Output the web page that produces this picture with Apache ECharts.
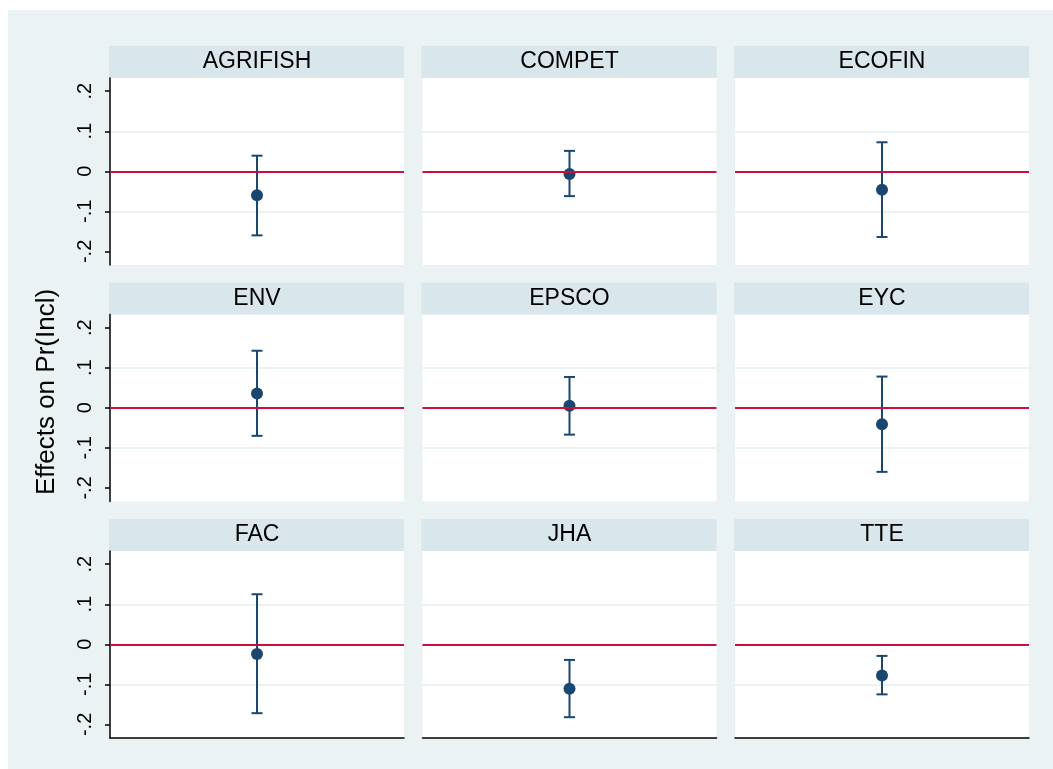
<!DOCTYPE html>
<html>
<head>
<meta charset="utf-8">
<script src="https://cdn.jsdelivr.net/npm/echarts@6/dist/echarts.min.js"></script>
<style>
  html, body { margin: 0; padding: 0; background: #fff; }
  #main { width: 1053px; height: 769px; }
</style>
</head>
<body>
<div id="main"></div>
<script>
// values
let panels = ["AGRIFISH", "COMPET", "ECOFIN", "ENV", "EPSCO", "EYC", "FAC", "JHA", "TTE"];
let estimates = [-0.06, -0.007, -0.046, 0.036, 0.005, -0.041, -0.024, -0.111, -0.078];
let lowerCI = [-0.16, -0.062, -0.164, -0.07, -0.067, -0.16, -0.172, -0.182, -0.125];
let upperCI = [0.039, 0.051, 0.0725, 0.1425, 0.077, 0.078, 0.125, -0.039, -0.029];
let yTicks = [-0.2, -0.1, 0, 0.1, 0.2];
let yMin = -0.234;
let yMax = 0.233;

let navy = "#1a476f";
let red = "#c8103c";
let fontFamily = "'Liberation Sans', Arial, Helvetica, sans-serif";

// panel layout (pixels)
let colLeft = [110, 422.5, 735];
let rowTop = [78, 314.5, 551];
let plotW = 294;
let plotH = 187;
let headerH = 32;

let chart = echarts.init(document.getElementById("main"));

function tickLabel(v) {
  if (Math.abs(v) < 1e-9) return "0";
  let s = Math.abs(v).toFixed(1).replace(/^0/, "");
  return (v < 0 ? "-" : "") + s;
}

function renderErrorBar(params, api) {
  let lo = api.coord([api.value(0), api.value(1)]);
  let hi = api.coord([api.value(0), api.value(2)]);
  let cap = 5.5;
  let style = { stroke: navy, lineWidth: 2, fill: null };
  return {
    type: "group",
    children: [
      { type: "line", shape: { x1: lo[0], y1: lo[1], x2: hi[0], y2: hi[1] }, style: style },
      { type: "line", shape: { x1: lo[0] - cap, y1: lo[1], x2: lo[0] + cap, y2: lo[1] }, style: style },
      { type: "line", shape: { x1: hi[0] - cap, y1: hi[1], x2: hi[0] + cap, y2: hi[1] }, style: style }
    ]
  };
}

let grids = [];
let xAxes = [];
let yAxes = [];
let series = [];
let graphics = [
  {
    type: "rect",
    shape: { x: 8, y: 10, width: 1045, height: 759 },
    style: { fill: "#eaf2f3" },
    z: -10,
    silent: true
  },
  {
    type: "text",
    x: 47,
    y: 392,
    rotation: Math.PI / 2,
    style: {
      text: "Effects on Pr(Incl)",
      fill: "#000",
      font: "26px " + fontFamily,
      align: "center",
      verticalAlign: "middle"
    },
    silent: true
  }
];

panels.forEach(function(name, i) {
  let row = Math.floor(i / 3);
  let col = i % 3;
  let left = colLeft[col];
  let top = rowTop[row];
  let lastRow = row === 2;
  let firstCol = col === 0;

  grids.push({
    left: left,
    top: top,
    width: plotW,
    height: plotH,
    show: true,
    backgroundColor: "#fff",
    borderWidth: 0
  });

  graphics.push({
    type: "rect",
    shape: { x: left - 1, y: top - headerH, width: plotW + 1, height: headerH },
    style: { fill: "#d9e6eb" },
    silent: true
  });
  graphics.push({
    type: "text",
    x: left + plotW / 2,
    y: top - headerH / 2,
    style: {
      text: name,
      fill: "#000",
      font: "23px " + fontFamily,
      align: "center",
      verticalAlign: "middle"
    },
    silent: true
  });

  xAxes.push({
    type: "category",
    gridIndex: i,
    data: [name],
    axisLine: { show: lastRow, onZero: false, lineStyle: { color: "#000", width: 1.5 } },
    axisTick: { show: false },
    axisLabel: { show: false },
    splitLine: { show: false },
    z: 5
  });

  yAxes.push({
    type: "value",
    gridIndex: i,
    min: yMin,
    max: yMax,
    axisLine: { show: firstCol, lineStyle: { color: "#000", width: 1.5 } },
    axisTick: {
      show: firstCol,
      length: 5,
      customValues: yTicks,
      lineStyle: { color: "#000", width: 1.5 }
    },
    axisLabel: {
      show: firstCol,
      customValues: yTicks,
      rotate: 90,
      margin: 15,
      color: "#000",
      fontSize: 20,
      fontFamily: fontFamily,
      formatter: tickLabel
    },
    splitLine: {
      show: true,
      showMinLine: false,
      showMaxLine: false,
      lineStyle: { color: "#eaf2f3", width: 2 }
    }
  });

  // zero reference line
  series.push({
    type: "line",
    xAxisIndex: i,
    yAxisIndex: i,
    data: [],
    z: 1,
    markLine: {
      silent: true,
      symbol: "none",
      label: { show: false },
      lineStyle: { color: red, width: 2, type: "solid" },
      data: [{ yAxis: 0 }]
    }
  });

  series.push({
    type: "custom",
    xAxisIndex: i,
    yAxisIndex: i,
    z: 2,
    renderItem: renderErrorBar,
    data: [[0, lowerCI[i], upperCI[i]]]
  });

  series.push({
    type: "scatter",
    xAxisIndex: i,
    yAxisIndex: i,
    z: 3,
    symbol: "circle",
    symbolSize: 12,
    itemStyle: { color: navy, opacity: 1 },
    data: [[0, estimates[i]]]
  });
});

chart.setOption({
  backgroundColor: "#fff",
  animation: false,
  grid: grids,
  xAxis: xAxes,
  yAxis: yAxes,
  series: series,
  graphic: graphics
});
</script>
</body>
</html>
